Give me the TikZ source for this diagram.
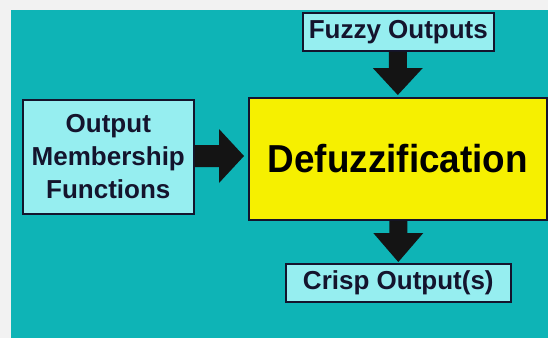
\documentclass[tikz,border=0pt]{standalone}
\usepackage{fontspec}
\setmainfont{Liberation Sans}
\usetikzlibrary{calc}
\definecolor{teal1}{RGB}{14,180,182}
\definecolor{lightbox}{RGB}{150,238,240}
\definecolor{yel}{RGB}{246,240,0}
\definecolor{edge}{RGB}{20,20,45}
\definecolor{margin}{RGB}{242,242,242}
\begin{document}
\begin{tikzpicture}[x=1pt,y=-1pt,
  lbox/.style={draw=edge,line width=1.6pt,fill=lightbox,inner sep=0pt,anchor=north west,
    font=\fontsize{26}{33}\selectfont\bfseries,text=edge,align=center},
  ybox/.style={draw=edge,line width=1.6pt,fill=yel,inner sep=0pt,anchor=north west,
    font=\fontsize{39}{44}\selectfont\bfseries,text=black},
  fat/.style={fill=black!92}]
\useasboundingbox (0,0) rectangle (548,338);
\fill[margin] (0,0) rectangle (548,338);
\fill[teal1] (11,10) rectangle (548,338);
\node[lbox,minimum width=191,minimum height=38] (fuzzy) at (302,12) {Fuzzy Outputs};
\node[lbox,minimum width=171,minimum height=114] (omf) at (22,99) {Output\\Membership\\Functions};
\node[ybox,minimum width=298,minimum height=122] (defuz) at (248,97) {\scalebox{0.945}[1]{Defuzzification}};
\node[lbox,minimum width=225,minimum height=38] (crisp) at (285,263) {Crisp Output(s)};
% down arrow: fuzzy -> defuz
\fill[fat] let \p1=(fuzzy.south), \p2=(defuz.north) in
  (\x2-9pt,\y1) -- (\x2-9pt,\y2+29pt) -- (\x2-25pt,\y2+29pt) -- (\x2,\y2+2pt)
  -- (\x2+25pt,\y2+29pt) -- (\x2+9pt,\y2+29pt) -- (\x2+9pt,\y1) -- cycle;
% down arrow: defuz -> crisp
\fill[fat] let \p1=(defuz.south), \p2=(crisp.north) in
  (\x2-9pt,\y1) -- (\x2-9pt,\y2+30pt) -- (\x2-25pt,\y2+30pt) -- (\x2,\y2+1pt)
  -- (\x2+25pt,\y2+30pt) -- (\x2+9pt,\y2+30pt) -- (\x2+9pt,\y1) -- cycle;
% right arrow: omf -> defuz
\coordinate (m) at (0,156);
\fill[fat] let \p1=(omf.east), \p2=(defuz.west), \p3=(m) in
  (\x1,\y3+11pt) -- (\x2-29pt,\y3+11pt) -- (\x2-29pt,\y3+27pt) -- (\x2-4pt,\y3)
  -- (\x2-29pt,\y3-27pt) -- (\x2-29pt,\y3-11pt) -- (\x1,\y3-11pt) -- cycle;
\end{tikzpicture}
\end{document}
